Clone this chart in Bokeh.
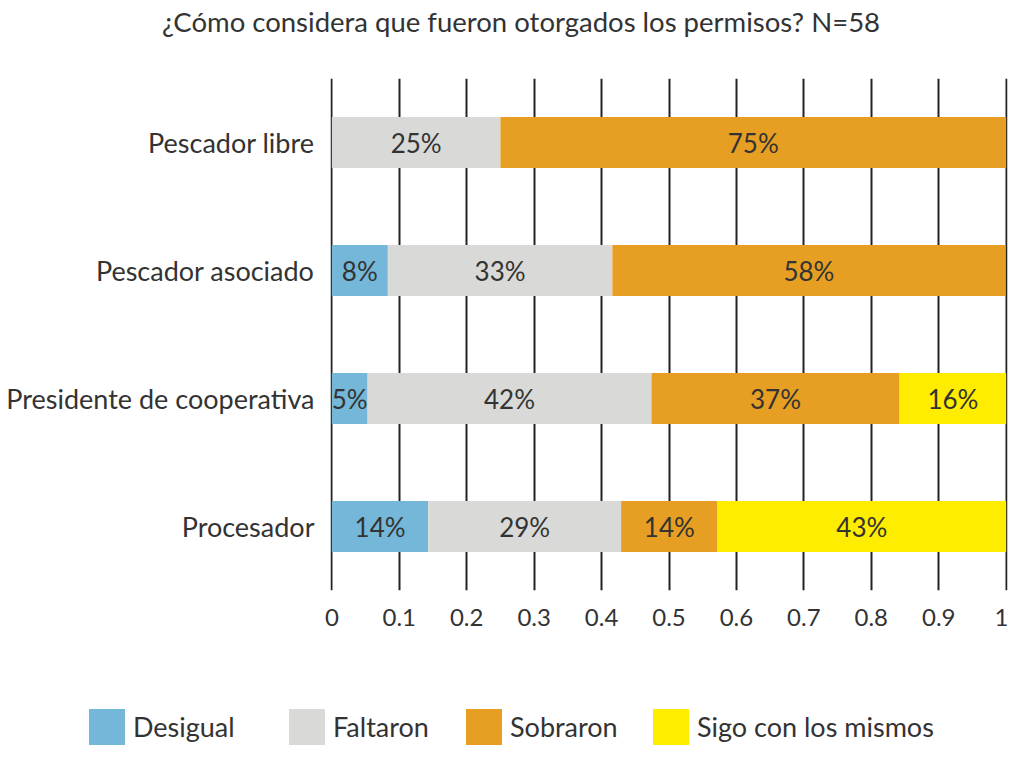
from bokeh.plotting import figure
from bokeh.layouts import column
from bokeh.models import (FactorRange, Range1d, FixedTicker, LabelSet,
                          ColumnDataSource, Div)
from bokeh.embed import file_html
from bokeh.resources import INLINE
from bokeh.core.properties import value

# ---- data ----
categories = ["Procesador", "Presidente de cooperativa", "Pescador asociado", "Pescador libre"]
series = ["Desigual", "Faltaron", "Sobraron", "Sigo con los mismos"]
desigual = [0.143, 0.053, 0.083, 0.0]
faltaron = [0.286, 0.421, 0.333, 0.25]
sobraron = [0.143, 0.368, 0.583, 0.75]
sigo = [0.428, 0.158, 0.0, 0.0]
pct_desigual = ["14%", "5%", "8%", ""]
pct_faltaron = ["29%", "42%", "33%", "25%"]
pct_sobraron = ["14%", "37%", "58%", "75%"]
pct_sigo = ["43%", "16%", "", ""]
x_ticks = [0, 0.1, 0.2, 0.3, 0.4, 0.5, 0.6, 0.7, 0.8, 0.9, 1]
x_tick_labels = ["0", "0.1", "0.2", "0.3", "0.4", "0.5", "0.6", "0.7", "0.8", "0.9", "1"]
title_text = "¿Cómo considera que fueron otorgados los permisos? N=58"

colors = ["#74B7D9", "#D9D9D8", "#E69F22", "#FFED00"]
FONT = "Lato"
TXT = "#333333"

data = {"cat": categories, "Desigual": desigual, "Faltaron": faltaron,
        "Sobraron": sobraron, "Sigo con los mismos": sigo}
src = ColumnDataSource(data)

# ---- title (HTML strip above the plot) ----
title_div = Div(
    text=(f'<div style="position:absolute;left:162px;top:0px;height:44px;'
          f'line-height:44px;white-space:nowrap;font-family:{FONT};font-size:27.5px;'
          f'color:{TXT};">{title_text}</div>'),
    width=1008, height=44, margin=(0, 0, 0, 0),
    styles={"position": "relative"})

# ---- main plot ----
p = figure(width=1008, height=596, y_range=FactorRange(*categories),
           x_range=Range1d(-0.002, 1.002), output_backend="svg", toolbar_location=None,
           min_border_left=330, min_border_right=1, min_border_top=34,
           min_border_bottom=50, margin=(0, 0, 0, 0))
p.outline_line_color = None

rends = p.hbar_stack(series, y="cat", height=0.4, color=colors, line_color=None,
                     source=src)

vals = [desigual, faltaron, sobraron, sigo]
pcts = [pct_desigual, pct_faltaron, pct_sobraron, pct_sigo]
xs, ys, ts = [], [], []
for i, c in enumerate(categories):
    start = 0.0
    for s in range(4):
        v = vals[s][i]
        if pcts[s][i]:
            xs.append(start + v / 2)
            ys.append(c)
            ts.append(pcts[s][i])
        start += v
lsrc = ColumnDataSource(dict(x=xs, y=ys, t=ts))
p.add_layout(LabelSet(x="x", y="y", text="t", source=lsrc, text_align="center",
                      text_baseline="middle", text_font=value(FONT),
                      text_font_size="26px", text_color=TXT))

p.xgrid.ticker = FixedTicker(ticks=x_ticks)
p.xgrid.grid_line_color = "#222222"
p.xgrid.grid_line_width = 2
p.ygrid.grid_line_color = None

p.xaxis.ticker = FixedTicker(ticks=x_ticks)
p.xaxis.major_label_overrides = {t: l for t, l in zip(x_ticks, x_tick_labels)}
p.xaxis.axis_line_color = None
p.xaxis.major_tick_line_color = None
p.xaxis.minor_tick_line_color = None
p.xaxis.major_label_standoff = 12
p.xaxis.major_label_text_font = FONT
p.xaxis.major_label_text_font_size = "24px"
p.xaxis.major_label_text_color = TXT

p.yaxis.axis_line_color = None
p.yaxis.major_tick_line_color = None
p.yaxis.major_label_standoff = 10
p.yaxis.major_label_text_font = FONT
p.yaxis.major_label_text_font_size = "27px"
p.yaxis.major_label_text_color = TXT

# ---- legend (HTML strip below the plot) ----
leg_left = [89, 289, 466, 653]
parts = []
for name, c, lx in zip(series, colors, leg_left):
    parts.append(f'<div style="position:absolute;left:{lx}px;top:69px;width:36px;'
                 f'height:36px;background:{c};"></div>')
    parts.append(f'<div style="position:absolute;left:{lx + 44}px;top:69px;height:36px;'
                 f'line-height:36px;white-space:nowrap;font-family:{FONT};'
                 f'font-size:27px;color:{TXT};">{name}</div>')
legend_div = Div(text="".join(parts), width=1008, height=105, margin=(0, 0, 0, 0),
                 styles={"position": "relative"})

layout = column(title_div, p, legend_div, spacing=0)
open("out.html", "w").write(file_html(layout, INLINE))
